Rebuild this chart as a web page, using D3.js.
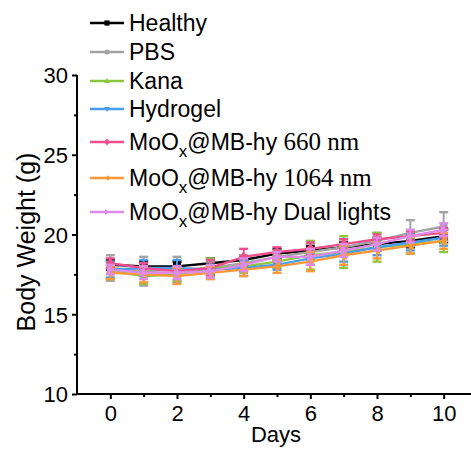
<!DOCTYPE html>
<html>
<head>
<meta charset="utf-8">
<script src="https://cdn.jsdelivr.net/npm/d3@7/dist/d3.min.js"></script>
<style>
  html, body { margin: 0; padding: 0; background: #fff; }
  svg { display: block; font-family: "Liberation Sans", Arial, sans-serif; }
</style>
</head>
<body>
<svg id="chart" width="471" height="455"></svg>
<script>
// Body weight of mice over the treatment period (mean ± SD)
const days = [0, 1, 2, 3, 4, 5, 6, 7, 8, 9, 10];

const healthy     = [18.1, 18.0, 18.0, 18.2, 18.4, 18.8, 19.0, 19.2, 19.4, 19.6, 19.9];
const healthySd   = [0.3, 0.3, 0.3, 0.3, 0.3, 0.3, 0.3, 0.3, 0.4, 0.4, 0.4];
const pbs         = [17.9, 17.7, 17.8, 17.9, 18.2, 18.6, 18.9, 19.2, 19.6, 20.1, 20.5];
const pbsSd       = [0.8, 0.9, 0.8, 0.4, 0.5, 0.4, 0.5, 0.5, 0.5, 0.8, 0.9];
const kana        = [17.7, 17.4, 17.5, 17.9, 18.0, 18.3, 18.7, 18.9, 19.2, 19.4, 19.6];
const kanaSd      = [0.5, 0.5, 0.4, 0.6, 0.4, 0.4, 0.9, 1.0, 0.9, 0.6, 0.7];
const hydrogel    = [17.8, 17.9, 17.9, 17.8, 17.9, 18.1, 18.5, 18.8, 19.2, 19.5, 19.8];
const hydrogelSd  = [0.5, 0.5, 0.5, 0.3, 0.5, 0.3, 0.4, 0.5, 0.5, 0.5, 0.5];
const nm660       = [18.2, 17.9, 17.7, 17.9, 18.6, 18.9, 19.1, 19.4, 19.7, 19.9, 20.1];
const nm660Sd     = [0.3, 0.3, 0.3, 0.5, 0.5, 0.3, 0.4, 0.3, 0.3, 0.3, 0.3];
const nm1064      = [17.6, 17.5, 17.4, 17.6, 17.8, 18.0, 18.3, 18.7, 19.0, 19.3, 19.6];
const nm1064Sd    = [0.4, 0.5, 0.5, 0.4, 0.4, 0.4, 0.6, 0.6, 0.5, 0.5, 0.5];
const dual        = [17.8, 17.6, 17.6, 17.7, 18.1, 18.6, 18.6, 19.0, 19.4, 19.9, 20.3];
const dualSd      = [0.3, 0.4, 0.4, 0.4, 0.4, 0.3, 0.5, 0.4, 0.4, 0.4, 0.4];

const xTicks = [0, 2, 4, 6, 8, 10];
const yTicks = [10, 15, 20, 25, 30];

const series = [
  { name: "Healthy",  values: healthy,  sd: healthySd,  color: "#000000", marker: "square" },
  { name: "PBS",      values: pbs,      sd: pbsSd,      color: "#a3a3a3", marker: "circle" },
  { name: "Kana",     values: kana,     sd: kanaSd,     color: "#8cc63f", marker: "up" },
  { name: "Hydrogel", values: hydrogel, sd: hydrogelSd, color: "#4a9ded", marker: "down" },
  { name: "660",      values: nm660,    sd: nm660Sd,    color: "#ee4f8c", marker: "diamond" },
  { name: "1064",     values: nm1064,   sd: nm1064Sd,   color: "#f7993a", marker: "left" },
  { name: "Dual",     values: dual,     sd: dualSd,     color: "#dc8be8", marker: "right" }
];

const svg = d3.select("#chart");

const x = d3.scaleLinear().domain([-1, 11]).range([77, 477]);
const y = d3.scaleLinear().domain([10, 30]).range([394, 75]);

// Marker path generator centred on (0,0)
function markerPath(type, r) {
  switch (type) {
    case "square":  return `M${-r},${-r}H${r}V${r}H${-r}Z`;
    case "circle":  return d3.symbol(d3.symbolCircle, Math.PI * r * r)();
    case "up":      return `M0,${-r * 1.2}L${r * 1.1},${r * 0.8}L${-r * 1.1},${r * 0.8}Z`;
    case "down":    return `M0,${r * 1.2}L${r * 1.1},${-r * 0.8}L${-r * 1.1},${-r * 0.8}Z`;
    case "diamond": return `M0,${-r * 1.3}L${r * 1.1},0L0,${r * 1.3}L${-r * 1.1},0Z`;
    case "left":    return `M${-r * 1.2},0L${r * 0.8},${-r * 1.1}L${r * 0.8},${r * 1.1}Z`;
    case "right":   return `M${r * 1.2},0L${-r * 0.8},${-r * 1.1}L${-r * 0.8},${r * 1.1}Z`;
  }
}

// Axes
const xAxis = d3.axisBottom(x).tickValues(d3.range(0, 11)).tickSize(5).tickFormat(d => xTicks.includes(d) ? d : "");
const yAxis = d3.axisLeft(y).tickValues(d3.range(10, 30.01, 2.5)).tickSize(5).tickFormat(d => yTicks.includes(d) ? d : "");

const gx = svg.append("g").attr("transform", `translate(0,${y(10)})`).call(xAxis);
gx.select(".domain").attr("d", `M${x(-1)},0H${x(11)}`).attr("stroke-width", 2);
gx.selectAll(".tick line").attr("stroke-width", 2).attr("y2", d => xTicks.includes(d) ? 5 : 3);
gx.selectAll(".tick text").attr("font-size", 22).attr("y", 11).attr("dy", "0.72em").attr("fill", "#000");

const gy = svg.append("g").attr("transform", `translate(${x(-1)},0)`).call(yAxis);
gy.select(".domain").attr("d", `M0,${y(30)}V${y(10)}`).attr("stroke-width", 2);
gy.selectAll(".tick line").attr("stroke-width", 2).attr("x2", d => yTicks.includes(d) ? -5 : -3);
gy.selectAll(".tick text").attr("font-size", 22).attr("x", -9).attr("dy", "0.36em").attr("fill", "#000");

svg.append("text")
  .attr("x", 276).attr("y", 442)
  .attr("text-anchor", "middle").attr("font-size", 22)
  .text("Days");

svg.append("text")
  .attr("transform", `translate(35,242) rotate(-90)`)
  .attr("text-anchor", "middle").attr("font-size", 25)
  .text("Body Weight (g)");

// Data: lines, error bars and markers
const line = d3.line().x((d, i) => x(days[i])).y(d => y(d));
const plot = svg.append("g");

series.forEach(s => {
  const g = plot.append("g");
  g.append("path")
    .attr("d", line(s.values))
    .attr("fill", "none").attr("stroke", s.color).attr("stroke-width", 2.4);

  const eb = g.selectAll(".eb").data(s.values).enter().append("g");
  eb.append("line")
    .attr("x1", (d, i) => x(days[i])).attr("x2", (d, i) => x(days[i]))
    .attr("y1", (d, i) => y(d - s.sd[i])).attr("y2", (d, i) => y(d + s.sd[i]))
    .attr("stroke", s.color).attr("stroke-width", 2);
  [-1, 1].forEach(sign => {
    eb.append("line")
      .attr("x1", (d, i) => x(days[i]) - 4.5).attr("x2", (d, i) => x(days[i]) + 4.5)
      .attr("y1", (d, i) => y(d + sign * s.sd[i])).attr("y2", (d, i) => y(d + sign * s.sd[i]))
      .attr("stroke", s.color).attr("stroke-width", 2.4);
  });

  g.selectAll(".mk").data(s.values).enter().append("path")
    .attr("d", markerPath(s.marker, 4))
    .attr("transform", (d, i) => `translate(${x(days[i])},${y(d)})`)
    .attr("fill", s.color);
});

// Legend
const legendRows = [23, 52, 81, 109, 142, 178, 212];
const legend = svg.append("g");
series.forEach((s, i) => {
  const ly = legendRows[i];
  legend.append("line")
    .attr("x1", 90).attr("x2", 124).attr("y1", ly).attr("y2", ly)
    .attr("stroke", s.color).attr("stroke-width", 2.4);
  legend.append("path")
    .attr("d", markerPath(s.marker, 2.6))
    .attr("transform", `translate(107,${ly})`)
    .attr("fill", s.color);

  const t = legend.append("text")
    .attr("x", 129).attr("y", ly + 7.5)
    .attr("font-size", 23);
  if (i < 4) {
    t.text(s.name);
  } else {
    t.append("tspan").text("MoO");
    t.append("tspan").attr("font-size", 17).attr("dy", 7).text("x");
    t.append("tspan").attr("dy", -7).text("@MB-hy ");
    if (s.name === "Dual") {
      t.append("tspan").text("Dual lights");
    } else {
      t.append("tspan").attr("font-family", "'Liberation Serif', 'Times New Roman', serif")
        .attr("font-size", 25)
        .text(s.name + " nm");
    }
  }
});
</script>
</body>
</html>
